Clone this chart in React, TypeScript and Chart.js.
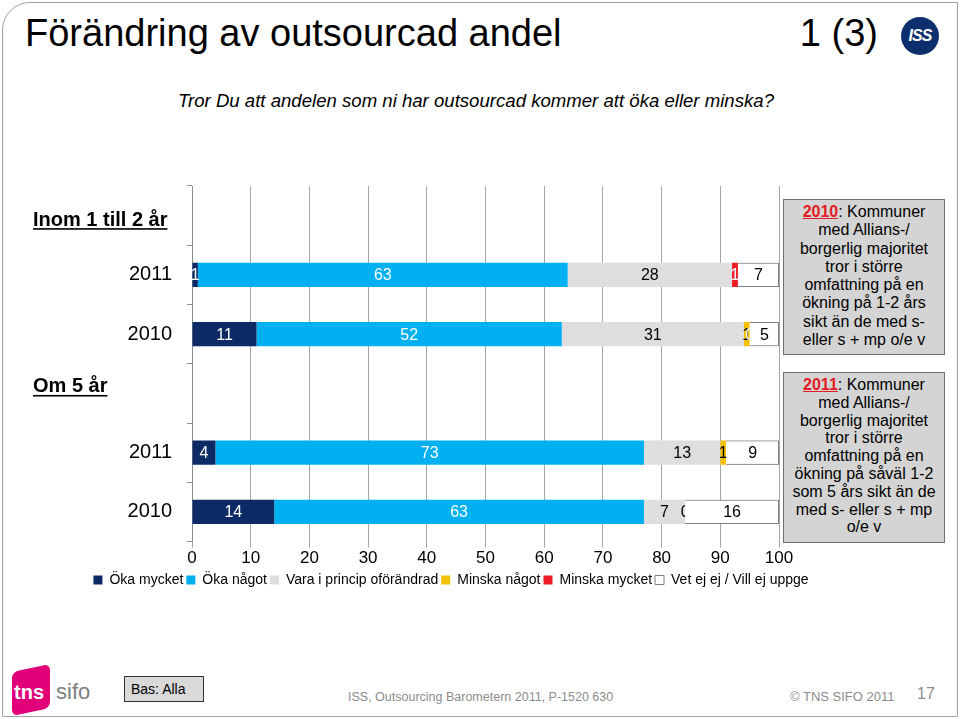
import React, { useEffect, useRef } from 'react';
import { Chart, registerables } from 'chart.js';

Chart.register(...registerables);

const FONT = '"Liberation Sans", Arial, Helvetica, sans-serif';

// ---- data ----
const categories = ['Inom 1 till 2 år', '2011', '2010', 'Om 5 år', '2011', '2010'];
const headerRows = [0, 3];
const headerNudge = [3, -8];

const seriesNames = [
  'Öka mycket',
  'Öka något',
  'Vara i princip oförändrad',
  'Minska något',
  'Minska mycket',
  'Vet ej ej / Vill ej uppge',
];
const okaMycket = [null, 1, 11, null, 4, 14];
const okaNagot = [null, 63, 52, null, 73, 63];
const oforandrad = [null, 28, 31, null, 13, 7];
const minskaNagot = [null, null, 1, null, 1, 0];
const minskaMycket = [null, 1, 0, null, null, null];
const vetEj = [null, 7, 5, null, 9, 16];
const seriesValues = [okaMycket, okaNagot, oforandrad, minskaNagot, minskaMycket, vetEj];

const seriesColors = ['#0b2a66', '#00b0f0', '#dedede', '#f5c000', '#ee1c25', '#ffffff'];
const labelColors = ['#ffffff', '#ffffff', '#000000', '#000000', '#ffffff', '#000000'];

const box1Lines = ['med Allians-/', 'borgerlig majoritet', 'tror i större', 'omfattning på en', 'ökning på 1-2 års', 'sikt än de med s-', 'eller s + mp o/e v'];
const box2Lines = ['med Allians-/', 'borgerlig majoritet', 'tror i större', 'omfattning på en', 'ökning på såväl 1-2', 'som 5 års sikt än de', 'med s- eller s + mp', 'o/e v'];

const valueLabelPlugin = {
  id: 'valueLabels',
  afterDatasetsDraw(chart: any) {
    const ctx = chart.ctx;
    const last = chart.data.datasets.length - 1;
    const drawLabels = (di: number) => {
      const meta = chart.getDatasetMeta(di);
      const data = chart.data.datasets[di].data;
      ctx.fillStyle = labelColors[di];
      meta.data.forEach((el: any, i: number) => {
        const v = data[i];
        if (v === null || v === undefined) return;
        const p = el.getProps(['x', 'y', 'base'], true);
        ctx.fillText(String(v), (p.x + p.base) / 2, p.y + 1);
      });
    };
    ctx.save();
    ctx.font = '16px ' + FONT;
    ctx.textAlign = 'center';
    ctx.textBaseline = 'middle';
    for (let d = 0; d < last; d++) drawLabels(d);
    // last series (white boxes) sits on top of earlier labels
    const lastMeta = chart.getDatasetMeta(last);
    const lastData = chart.data.datasets[last].data;
    lastMeta.data.forEach((el: any, i: number) => {
      if (lastData[i] === null || lastData[i] === undefined) return;
      el.draw(ctx);
    });
    drawLabels(last);
    ctx.restore();
  },
};

const headerPlugin = {
  id: 'groupHeaders',
  afterDraw(chart: any) {
    const ctx = chart.ctx;
    const y = chart.scales.y;
    ctx.save();
    ctx.font = 'bold 20px ' + FONT;
    ctx.fillStyle = '#000';
    ctx.textAlign = 'left';
    ctx.textBaseline = 'alphabetic';
    headerRows.forEach((row, k) => {
      const py = y.getPixelForValue(row) + headerNudge[k];
      const text = categories[row];
      ctx.fillText(text, 33, py + 7);
      const w = ctx.measureText(text).width;
      ctx.fillRect(33, py + 9.5, w, 1.6);
    });
    ctx.restore();
  },
};

export default function App() {
  const ref = useRef<HTMLCanvasElement>(null);

  useEffect(() => {
    Chart.defaults.font.family = FONT;
    Chart.defaults.color = '#000';
    const chart = new Chart(ref.current as HTMLCanvasElement, {
      type: 'bar',
      data: {
        labels: categories,
        datasets: seriesValues.map((vals, i) => ({
          label: seriesNames[i],
          data: vals,
          backgroundColor: seriesColors[i],
          borderColor: i === seriesValues.length - 1 ? '#7f7f7f' : seriesColors[i],
          borderWidth: i === seriesValues.length - 1 ? 1 : 0,
          barPercentage: 0.41,
          categoryPercentage: 1,
        })),
      },
      options: {
        indexAxis: 'y',
        responsive: false,
        animation: false,
        layout: { padding: { top: 15, left: 0, right: 0, bottom: 0 } },
        scales: {
          x: {
            stacked: true,
            min: 0,
            max: 100,
            ticks: { stepSize: 10, font: { size: 17 }, color: '#000', padding: 1 },
            grid: { color: '#a6a6a6', tickLength: 6, drawTicks: true },
            border: { display: false },
          },
          y: {
            stacked: true,
            ticks: {
              font: { size: 20 },
              color: '#000',
              padding: 15,
              autoSkip: false,
              callback: (_v: any, i: number) => (headerRows.includes(i) ? '' : categories[i]),
            },
            grid: { drawOnChartArea: false, tickLength: 5, color: '#8c8c8c', offset: true },
            border: { color: '#8c8c8c' },
            afterFit: (s: any) => {
              s.width = 192;
            },
          },
          y2: {
            type: 'linear',
            position: 'right',
            grid: { display: false },
            ticks: { display: false },
            border: { display: false },
            afterFit: (s: any) => {
              s.width = 123;
            },
          },
        },
        plugins: {
          legend: {
            position: 'bottom',
            labels: { boxWidth: 9, boxHeight: 9, padding: 3, font: { size: 14 }, color: '#000' },
          },
          tooltip: { enabled: false },
        },
      } as any,
      plugins: [valueLabelPlugin, headerPlugin],
    });
    return () => chart.destroy();
  }, []);

  const grey = '#8c8c8c';
  const boxStyle: React.CSSProperties = {
    position: 'absolute',
    left: 783,
    width: 162,
    background: '#d4d4d4',
    border: '1px solid #6f6f6f',
    boxSizing: 'border-box',
    textAlign: 'center',
    fontSize: 16,
    color: '#000',
    paddingTop: 3,
    zIndex: 2,
    whiteSpace: 'nowrap',
  };
  const yearStyle: React.CSSProperties = { color: '#e31b23', fontWeight: 'bold', textDecoration: 'underline' };

  return (
    <div style={{ position: 'absolute', left: 0, top: 0, width: 960, height: 719, overflow: 'hidden', fontFamily: FONT, background: '#fff' }}>
      <div style={{ position: 'absolute', left: 2, top: 2, width: 954, height: 713, border: '1px solid #a0a0a0', borderTopLeftRadius: 28 }} />
      <div style={{ position: 'absolute', left: 25, top: 14, fontSize: 38, lineHeight: '38px', color: '#000', whiteSpace: 'nowrap' }}>
        Förändring av outsourcad andel
      </div>
      <div style={{ position: 'absolute', left: 780, width: 98, top: 14, fontSize: 38, lineHeight: '38px', color: '#000', textAlign: 'right', whiteSpace: 'nowrap' }}>
        1 (3)
      </div>
      <div style={{ position: 'absolute', left: 901, top: 17, width: 38, height: 38, borderRadius: 19, background: '#0d2f6e', color: '#fff', fontWeight: 'bold', fontStyle: 'italic', fontSize: 16, lineHeight: '38px', textAlign: 'center', letterSpacing: -1 }}>
        ISS
      </div>
      <div style={{ position: 'absolute', left: 0, width: 952, top: 90, fontSize: 18.6, lineHeight: '22px', fontStyle: 'italic', textAlign: 'center', color: '#000', whiteSpace: 'nowrap' }}>
        Tror Du att andelen som ni har outsourcad kommer att öka eller minska?
      </div>

      <canvas ref={ref} width={902} height={438} style={{ position: 'absolute', left: 0, top: 159, width: 902, height: 438, zIndex: 1 }} />

      <div style={{ ...boxStyle, top: 199, height: 156, lineHeight: '18.3px' }}>
        <div>
          <span style={yearStyle}>2010</span>: Kommuner
        </div>
        {box1Lines.map((l, i) => (
          <div key={i}>{l}</div>
        ))}
      </div>
      <div style={{ ...boxStyle, top: 372, height: 171, lineHeight: '17.8px' }}>
        <div>
          <span style={yearStyle}>2011</span>: Kommuner
        </div>
        {box2Lines.map((l, i) => (
          <div key={i}>{l}</div>
        ))}
      </div>

      {/* footer */}
      <div style={{ position: 'absolute', left: 12, top: 668, width: 38, height: 44, background: '#e2007a', borderRadius: 6, transform: 'skewY(-12deg)' }} />
      <div style={{ position: 'absolute', left: 14, top: 681, fontSize: 20, fontWeight: 'bold', color: '#fff', lineHeight: '22px' }}>tns</div>
      <div style={{ position: 'absolute', left: 56, top: 680, fontSize: 22, color: '#808080', lineHeight: '24px' }}>sifo</div>
      <div style={{ position: 'absolute', left: 124, top: 676, width: 80, height: 26, background: '#d9d9d9', border: '1px solid #333', boxSizing: 'border-box', fontSize: 14, lineHeight: '24px', paddingLeft: 6, color: '#000' }}>
        Bas: Alla
      </div>
      <div style={{ position: 'absolute', left: 348, top: 689, fontSize: 12.5, lineHeight: '16px', color: grey, whiteSpace: 'nowrap' }}>
        ISS, Outsourcing Barometern 2011, P-1520 630
      </div>
      <div style={{ position: 'absolute', left: 790, top: 689, fontSize: 13, lineHeight: '16px', color: grey, whiteSpace: 'nowrap' }}>
        © TNS SIFO 2011
      </div>
      <div style={{ position: 'absolute', left: 917, top: 685, fontSize: 16, lineHeight: '18px', color: grey }}>17</div>
    </div>
  );
}
